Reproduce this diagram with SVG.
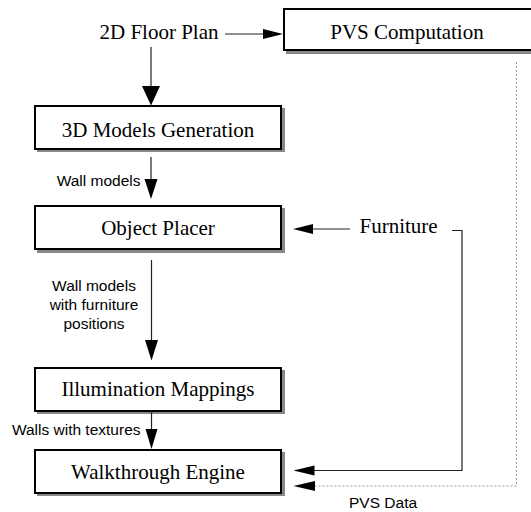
<svg xmlns="http://www.w3.org/2000/svg" width="531" height="512" viewBox="0 0 531 512">
<style>
.box{fill:#fff;stroke:#000;stroke-width:2}
.sh{fill:#888}
.nt{font-family:"Liberation Serif","Times New Roman",serif;font-size:21px;fill:#000}
.lt{font-family:"Liberation Sans",Arial,sans-serif;font-size:15.5px;fill:#000}
.ln{fill:none;stroke:#222;stroke-width:1.2}
.dl{fill:none;stroke:#999;stroke-width:1;stroke-dasharray:2,2}
.ah{fill:#000}
</style>
<rect width="531" height="512" fill="#fff"/>
<g id="floorplan"><text class="nt" x="159" y="39" text-anchor="middle">2D Floor Plan</text></g>
<g id="pvs">
<rect class="sh" x="286" y="11" width="260" height="43"/>
<rect class="box" x="284" y="9" width="260" height="41"/>
<text class="nt" x="407" y="39" text-anchor="middle">PVS Computation</text>
</g>
<g id="models3d">
<rect class="sh" x="37" y="108" width="248" height="44"/>
<rect class="box" x="35" y="106" width="246" height="43"/>
<text class="nt" x="158" y="137" text-anchor="middle">3D Models Generation</text>
</g>
<g id="placer">
<rect class="sh" x="37" y="208" width="248" height="45"/>
<rect class="box" x="35" y="206" width="246" height="43"/>
<text class="nt" x="158" y="235" text-anchor="middle">Object Placer</text>
</g>
<g id="furniture"><text class="nt" x="359.5" y="233">Furniture</text></g>
<g id="illum">
<rect class="sh" x="37" y="370" width="248" height="44"/>
<rect class="box" x="35" y="368" width="246" height="43"/>
<text class="nt" x="158" y="396" text-anchor="middle">Illumination Mappings</text>
</g>
<g id="walk">
<rect class="sh" x="37" y="452" width="248" height="44"/>
<rect class="box" x="35" y="450" width="246" height="43"/>
<text class="nt" x="158" y="479" text-anchor="middle">Walkthrough Engine</text>
</g>
<g id="connectors">
<line class="ln" x1="225" y1="34" x2="264" y2="34"/>
<polygon class="ah" points="283,34 263,29 263,39"/>
<line class="ln" x1="151" y1="47" x2="151" y2="87"/>
<polygon class="ah" points="151,105.5 142,86 160,86"/>
<line class="ln" x1="151" y1="157" x2="151" y2="180"/>
<polygon class="ah" points="151,199 144.5,179 157.5,179"/>
<text class="lt" x="140.5" y="185.5" text-anchor="end">Wall models</text>
<line class="ln" x1="350" y1="229" x2="312" y2="229"/>
<polygon class="ah" points="293,229 313,224 313,234"/>
<line class="ln" x1="151.5" y1="260" x2="151.5" y2="341"/>
<polygon class="ah" points="151.5,360.5 145,340 158,340"/>
<text class="lt" text-anchor="middle"><tspan x="94" y="291">Wall models</tspan><tspan x="94" y="310">with furniture</tspan><tspan x="94" y="329">positions</tspan></text>
<line class="ln" x1="151.5" y1="411" x2="151.5" y2="430"/>
<polygon class="ah" points="151.5,449 145.5,429 157.5,429"/>
<text class="lt" x="140.5" y="435" text-anchor="end">Walls with textures</text>
<polyline class="ln" points="452,230.5 462,230.5 462,470.5 313,470.5"/>
<polygon class="ah" points="293.5,470.5 314.5,465.5 314.5,475.5"/>
<polyline class="dl" points="516.5,62 516.5,486 314,486"/>
<polygon class="ah" points="293.5,486 315,481 315,491"/>
<text class="lt" x="349" y="508">PVS Data</text>
</g>
</svg>
